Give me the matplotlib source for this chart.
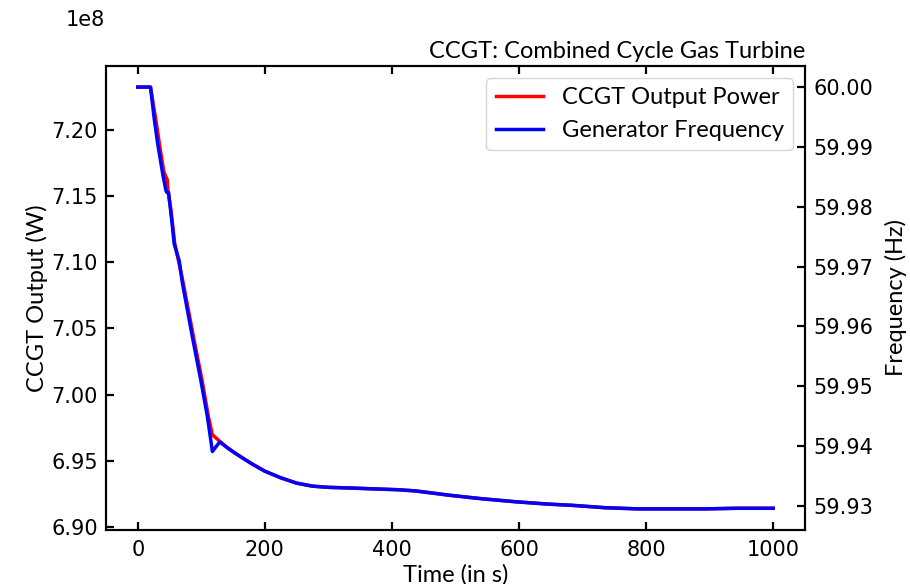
import matplotlib
matplotlib.use("Agg")
import matplotlib.pyplot as plt
from matplotlib.ticker import FuncFormatter

# Zeit (s) und Frequenz (Hz)
time_freq = [0, 20, 25.9, 31.1, 38.9, 44.3, 45.8, 48.4, 52.1, 54.6, 57.3, 65.1, 70.3, 86,
             99.2, 109.6, 117.4, 129, 140, 152, 165, 180, 200, 225, 250, 275, 300, 332,
             384, 410, 437, 460, 489, 515, 541, 594, 646, 683, 735, 787, 840, 892, 944, 1000]
freq = [60.0000, 60.0000, 59.9947, 59.9907, 59.9857, 59.9827, 59.9824, 59.9824, 59.9790,
        59.9766, 59.9738, 59.9710, 59.9672, 59.9582, 59.9510, 59.9449, 59.9391, 59.9407,
        59.9398, 59.9389, 59.9380, 59.9370, 59.9358, 59.9347, 59.9338, 59.9333, 59.9331,
        59.9330, 59.9328, 59.9327, 59.9325, 59.9322, 59.9318, 59.9315, 59.9312, 59.9307,
        59.9303, 59.9301, 59.9297, 59.9295, 59.9295, 59.9295, 59.9296, 59.9296]

# Zeit (s) und Leistung (W)
time_power = [0, 20, 28, 33.5, 41, 46.5, 47.3, 52.5, 58, 71.5, 87.5, 101, 111, 117.4, 128,
              140, 152, 165, 180, 200, 225, 250, 275, 300, 332, 384, 410, 437, 460, 489,
              515, 541, 594, 646, 683, 735, 787, 840, 892, 944, 1000]
power = [7.2325e8, 7.2325e8, 7.2091e8, 7.1912e8, 7.1685e8, 7.1622e8, 7.1547e8, 7.1383e8,
         7.1147e8, 7.0844e8, 7.0439e8, 7.0112e8, 6.9835e8, 6.9696e8, 6.9650e8, 6.9601e8,
         6.9560e8, 6.9520e8, 6.9474e8, 6.9420e8, 6.9370e8, 6.9330e8, 6.9307e8, 6.9298e8,
         6.9293e8, 6.9284e8, 6.9280e8, 6.9271e8, 6.9257e8, 6.9239e8, 6.9225e8, 6.9212e8,
         6.9189e8, 6.9171e8, 6.9162e8, 6.9144e8, 6.9135e8, 6.9135e8, 6.9135e8, 6.9140e8,
         6.9140e8]

label_font = "Lato"
fs = 17
tfs = 15

fig, ax1 = plt.subplots(figsize=(9.1, 5.84), dpi=100)
fig.subplots_adjust(left=0.1165, right=0.8846, top=0.887, bottom=0.0925)

l1, = ax1.plot(time_power, power, color="red", lw=2.5, label="CCGT Output Power")
ax1.set_xlabel("Time (in s)", fontsize=fs, family=label_font, labelpad=3)
ax1.set_ylabel("CCGT Output (W)", fontsize=fs, family=label_font, labelpad=2)
ax1.yaxis.set_major_formatter(FuncFormatter(lambda v, p: f"{v / 1e8:.2f}"))
fig.text(105 / 910, 1 - 20 / 584, "1e8", ha="right", va="center", fontsize=tfs)

ax2 = ax1.twinx()
l2, = ax2.plot(time_freq, freq, color="blue", lw=2.5, label="Generator Frequency")
ax2.set_ylabel("Frequency (Hz)", fontsize=fs, family=label_font, labelpad=8)
ax2.set_yticks([60.00, 59.99, 59.98, 59.97, 59.96, 59.95, 59.94, 59.93])
ax2.yaxis.set_major_formatter(FuncFormatter(lambda v, p: f"{v:.2f}"))

ax1.tick_params(axis="x", direction="in", top=True, length=6, width=1.6, labelsize=tfs, pad=7)
ax1.tick_params(axis="y", direction="in", length=6, width=1.6, labelsize=tfs, pad=6)
ax2.tick_params(axis="y", direction="in", length=6, width=1.6, labelsize=tfs, pad=6)
for ax in (ax1, ax2):
    for s in ax.spines.values():
        s.set_linewidth(1.5)

ax1.set_title("CCGT: Combined Cycle Gas Turbine", loc="right", fontsize=fs, family=label_font, pad=6)

leg = ax2.legend([l1, l2], [l1.get_label(), l2.get_label()], loc="upper right",
                 prop={"family": label_font, "size": fs})

fig.savefig("out.png", dpi=100)
